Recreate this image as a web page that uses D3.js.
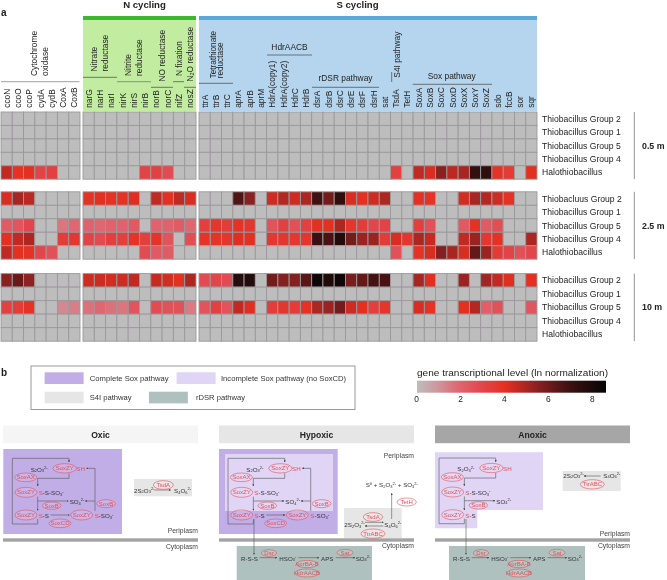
<!DOCTYPE html>
<html><head><meta charset="utf-8">
<script src="https://cdn.jsdelivr.net/npm/d3@7/dist/d3.min.js"></script>
<style>html,body{margin:0;padding:0;background:#fff}svg{display:block;filter:blur(.3px)}text{font-family:"Liberation Sans",Arial,sans-serif;fill:#222}</style>
</head><body><svg id="c" width="667" height="580"></svg>
<script>
// ---- data ----
const oxidaseGenes = ["ccoN","ccoO","ccoP","cydA","cydB","CoxA","CoxB"];
const nitrogenGenes = ["narG","narH","narI","nirK","nirS","nirB","norB","norC","nifZ","nosZ"];
const sulfurGenes = ["ttrA","ttrB","ttrC","aprA","aprB","aprM","HdrA(copy1)","HdrA(copy2)","HdrC","HdrB","dsrA","dsrB","dsrC","dsrE","dsrF","dsrH","sat","TsdA","TetH","SoxA","SoxB","SoxC","SoxD","SoxX","SoxY","SoxZ","sdo","fccB","sor","sqr"];
const allGenes = oxidaseGenes.concat(nitrogenGenes, sulfurGenes);
const groupsTop = ["Thiobacillus Group 2","Thiobacillus Group 1","Thiobacillus Group 5","Thiobacillus Group 4","Halothiobacillus"];
const groupsMid = ["Thiobacluus Group 2","Thiobacillus Group 1","Thiobacillus Group 5","Thiobacillus Group 4","Halothiobacillus"];
const zeros = new Array(47).fill(0);

const d05_halo = [4.6,3.9,4.0,3.1,3.2,0,0, 0,0,0,0,0,3.1,3.2,2.8,0,0, 0,0,0,0,0,0,0,0,0,0,0,0,0,0,0,0,0,3.2,0,4.6,4.2,5.5,4.7,5.0,7.2,7.3,3.9,3.5,0,4.0];

const d25_g2 = [4.2,5.0,4.7,0,0,0,0, 3.9,4.0,3.9,3.9,4.1,0,4.6,4.0,4.6,4.2, 0,0,0,6.6,5.5,0,4.4,4.8,4.4,4.9,6.9,5.9,7.3,4.2,4.0,4.4,4.9,0,0,4.0,3.8,0,0,4.3,5.0,4.8,4.4,3.9,0,0];
const d25_g5 = [2.2,2.4,3.0,0,0,1.6,1.9, 2.0,1.9,2.0,2.0,2.3,0,2.0,2.0,2.2,1.9, 3.3,3.7,3.4,3.9,3.7,0,2.5,3.2,2.6,3.2,4.0,4.0,4.9,3.7,3.4,3.0,3.1,0,0,3.3,2.6,0,0,2.3,3.9,2.2,2.7,0,0,0];
const d25_g4 = [4.0,4.6,4.9,0,0,3.4,3.6, 3.1,2.8,3.3,3.3,3.8,3.3,3.8,2.5,0,2.7, 3.8,3.8,3.7,4.1,4.0,0,3.6,3.7,3.6,3.7,7.0,6.7,7.7,5.9,5.2,5.2,3.5,4.2,3.7,4.9,4.5,0,0,4.6,5.2,3.6,3.9,0,0,4.9];
const d25_halo = [4.6,4.0,3.9,3.0,2.6,0,0, 0,0,0,0,0,2.8,2.3,2.2,0,0, 0,0,0,0,0,0,0,0,0,0,0,0,0,0,0,0,0,2.6,0,3.9,4.2,5.6,5.0,4.2,6.2,5.2,3.5,3.1,2.6,3.0];

const d10_g2 = [5.5,6.1,5.4,0,0,0,0, 4.4,4.4,4.3,4.4,4.6,0,4.5,4.3,4.0,4.9, 2.8,3.0,2.8,7.6,7.7,0,5.9,5.6,5.6,6.4,8.3,7.8,8.3,5.8,6.2,6.8,6.7,0,0,5.0,4.1,0,0,5.2,0,5.1,4.6,4.1,0,4.0];
const d10_g5 = [3.2,3.4,3.9,0,0,1.2,1.4, 1.7,1.9,1.7,1.6,2.4,0,2.8,2.6,2.6,1.5, 2.5,3.2,2.5,4.6,4.1,0,3.4,3.7,3.4,3.9,4.9,5.2,5.9,4.4,4.0,3.3,3.7,0,0,4.2,3.9,0,0,4.0,4.8,2.1,2.6,0,0,2.4];

const depthLabels = ["0.5 m","2.5 m","10 m"];
const depthRows = [
  [zeros,zeros,zeros,zeros,d05_halo],
  [d25_g2,zeros,d25_g5,d25_g4,d25_halo],
  [d10_g2,zeros,d10_g5,zeros,zeros]
];
const depthNames = [groupsTop,groupsMid,groupsTop];
const heatStopValues = [0,1,2,3,4,4.6,5.4,6.2,7,8.6];
const heatStopColors = ["#bdbdbd","#cf939a","#e0626c","#e2454a","#e43020","#c02a22","#8e2222","#641818","#3a1010","#050505"];
const colorTicks = [0,2,4,6,8];

// ---- scales ----
const svg = d3.select("#c");
const color = d3.scaleLinear().domain(heatStopValues).range(heatStopColors);
const xOx = d3.scaleBand().domain(oxidaseGenes).range([1,80]);
const xN = d3.scaleBand().domain(nitrogenGenes).range([83,196]);
const xS = d3.scaleBand().domain(sulfurGenes).range([199,537]);
const xOf = g => oxidaseGenes.includes(g)?xOx(g):nitrogenGenes.includes(g)?xN(g):xS(g);
const wOf = g => oxidaseGenes.includes(g)?xOx.bandwidth():nitrogenGenes.includes(g)?xN.bandwidth():xS.bandwidth();
const yTops = [[112,179.2],[191.8,259.2],[273.6,341.2]];

// ---- header ----
svg.append("rect").attr("x",83).attr("y",20).attr("width",113).attr("height",91).attr("fill","#c2eda0");
svg.append("rect").attr("x",199).attr("y",20).attr("width",338).attr("height",91).attr("fill","#b5d5ee");
svg.append("rect").attr("x",83).attr("y",16).attr("width",113).attr("height",4).attr("fill","#3fb62f");
svg.append("rect").attr("x",199).attr("y",16).attr("width",338).attr("height",4).attr("fill","#5aa9d8");
const txt=(x,y,s,o={})=>svg.append("text").attr("x",x).attr("y",y).text(s)
  .attr("font-size",o.size||8.4).attr("font-weight",o.bold?"bold":null).attr("text-anchor",o.anchor||"start")
  .attr("dominant-baseline","central").style("fill",o.fill||"#222");
const rot=(x,y,s,o={})=>svg.append("text").attr("transform",`translate(${x},${y}) rotate(-90)`).text(s)
  .attr("font-size",o.size||8.4).attr("dominant-baseline","central").style("fill","#222");
const hl=(x1,x2,y,c="#555")=>svg.append("line").attr("x1",x1).attr("x2",x2).attr("y1",y).attr("y2",y).attr("stroke",c).attr("stroke-width",.8);
txt(1,12.5,"a",{bold:true,size:10});
txt(144.5,4.5,"N cycling",{bold:true,size:9.6,anchor:"middle"});
txt(357.5,4.5,"S cycling",{bold:true,size:9.6,anchor:"middle"});
allGenes.forEach(g=>rot(xOf(g)+wOf(g)/2,107.8,g));

rot(33.7,76,"Cytochrome");rot(44.7,76,"oxidase");hl(1,79.5,81.7,"#888");
rot(94,71.5,"Nitrate");rot(105,71.5,"reductase");hl(83,117,77.3);
rot(128,76,"Nitrite");rot(139,76,"reductase");hl(117,151,81.7,"#777");
rot(161.7,81.5,"NO reductase");hl(151,173,87.3);
rot(178.7,76,"N fixation");hl(173,184,81.7);
svg.append("text").attr("transform","translate(190,81.5) rotate(-90)").attr("font-size",8.4).attr("dominant-baseline","central")
  .call(t=>{t.append("tspan").text("N");t.append("tspan").text("2").attr("font-size",5.5).attr("dy",2);t.append("tspan").text("O reductase").attr("dy",-2);});
hl(184,196,87.3);
rot(213,78.3,"Tetrathionate",{size:8.2});rot(220,78.3,"reductase",{size:8.2});hl(199,233,83.3);
txt(289.5,47,"HdrAACB",{anchor:"middle"});hl(267,312,55);
txt(345.5,78,"rDSR pathway",{anchor:"middle"});hl(312,379,87.3);
rot(397,77.7,"S4I pathway");
svg.append("line").attr("x1",391.7).attr("x2",391.7).attr("y1",72).attr("y2",82).attr("stroke","#555").attr("stroke-width",.8);
txt(451.7,76,"Sox pathway",{anchor:"middle"});hl(412.7,492,84.3);

// ---- heatmap ----
depthRows.forEach((rows,di)=>{
  const y = d3.scaleBand().domain(d3.range(5)).range(yTops[di]);
  rows.forEach((vals,ri)=>{
    svg.append("g").selectAll("rect").data(vals.map((v,i)=>({v,g:allGenes[i]}))).join("rect")
      .attr("x",d=>xOf(d.g)).attr("y",y(ri)).attr("width",d=>wOf(d.g)).attr("height",y.bandwidth())
      .attr("fill",d=>color(d.v)).attr("stroke","#9b999b").attr("stroke-width",.9);
    txt(542,y(ri)+y.bandwidth()/2,depthNames[di][ri],{size:8.6});
  });
  svg.append("line").attr("x1",634.3).attr("x2",634.3).attr("y1",yTops[di][0]).attr("y2",yTops[di][1]).attr("stroke","#777").attr("stroke-width",.8);
  txt(642,(yTops[di][0]+yTops[di][1])/2,depthLabels[di],{bold:true,size:8.8});
});

// ---- legend ----
txt(1,372,"b",{bold:true,size:10});
svg.append("rect").attr("x",31).attr("y",366).attr("width",324).attr("height",43.5).attr("fill","#fff").attr("stroke","#8e8e8e").attr("stroke-width",.9);
const legendSwatches = [[44.6,372.3,"#c2aee6"],[176.6,372.3,"#e0d5f5"],[44.6,391.7,"#e6e6e6"],[148.9,391.7,"#afc1bf"]];
const legendLabels = [[89.7,378.5,"Complete Sox pathway",79],[221,378.5,"Incomplete Sox pathway (no SoxCD)",125],[89.7,397.5,"S4I pathway",42],[196,397.5,"rDSR pathway",49]];
legendSwatches.forEach(s=>svg.append("rect").attr("x",s[0]).attr("y",s[1]).attr("width",39).attr("height",11.7).attr("fill",s[2]));
legendLabels.forEach(l=>txt(l[0],l[1],l[2],{size:7.4,fill:"#333"}).attr("textLength",l[3]).attr("lengthAdjust","spacingAndGlyphs"));
txt(417,372,"gene transcriptional level (ln normalization)",{size:9.4}).attr("textLength",191).attr("lengthAdjust","spacingAndGlyphs");
const cbar = d3.scaleLinear().domain([0,8.6]).range([417,606]);
const grad = svg.append("defs").append("linearGradient").attr("id","hg");
heatStopValues.forEach((v,i)=>grad.append("stop").attr("offset",v/8.6).attr("stop-color",heatStopColors[i]));
svg.append("rect").attr("x",417).attr("y",380.7).attr("width",189).attr("height",12).attr("fill","url(#hg)");
const ax = svg.append("g").attr("transform","translate(-1,393)").call(d3.axisBottom(cbar).tickValues(colorTicks).tickSize(0).tickPadding(3));
ax.select(".domain").remove();
ax.selectAll("text").attr("font-size",8.4).attr("font-family",null).style("fill","#222");

// ---- panels ----
const SC="#e2505a";
const panelBars = [[3,195,"Oxic","#f5f5f5"],[219,195,"Hypoxic","#e6e6e6"],[435,195,"Anoxic","#a6a6a6"]];
panelBars.forEach(p=>{
  svg.append("rect").attr("x",p[0]).attr("y",425.5).attr("width",p[1]).attr("height",17.7).attr("fill",p[3]);
  txt(p[0]+p[1]/2,435,p[2],{bold:true,size:8.6,anchor:"middle"});
  svg.append("rect").attr("x",p[0]).attr("y",538.3).attr("width",p[1]).attr("height",3.4).attr("fill","#a3a3a3");
});
const defs=svg.select("defs");
defs.append("marker").attr("id","ah").attr("viewBox","0 0 6 6").attr("refX",5).attr("refY",3).attr("markerWidth",3.6).attr("markerHeight",3.6).attr("orient","auto")
  .append("path").attr("d","M0,0L6,3L0,6z").attr("fill","#444");
function chem(x,y,s,o={}){
  const t=svg.append("text").attr("x",x).attr("y",y).attr("font-size",o.size||6.2).attr("dominant-baseline","central");
  let shift=0;
  s.split(/(_\d+|\^[0-9+-]+|\{[^}]*\})/).filter(Boolean).forEach(p=>{
    const k=p[0]; let d=0,fs=null,txtv=p,col=null;
    if(k==="_"){d=1.6;fs=4;txtv=p.slice(1);} else if(k==="^"){d=-1.6;fs=4;txtv=p.slice(1);} else if(k==="{"){txtv=p.slice(1,-1);col=SC;}
    const ts=t.append("tspan").text(txtv).attr("dy",d-shift);
    if(fs)ts.attr("font-size",fs);
    ts.style("fill",col||"#333");
    shift=d;
  });
  return t;
}
function scheme(dx,dy){
  const X=z=>dx+z/3, Y=z=>dy+395+z/3;
  return {X,Y,
    line:(pts,arrow=true)=>svg.append("path").attr("d",d3.line().x(p=>X(p[0])).y(p=>Y(p[1]))(pts)).attr("fill","none").attr("stroke","#555").attr("stroke-width",.6).attr("marker-end",arrow?"url(#ah)":null),
    el:(cx,cy,rx,ry,s)=>{
      svg.append("ellipse").attr("cx",X(cx)).attr("cy",Y(cy)).attr("rx",rx/3).attr("ry",ry/3).attr("fill","rgba(255,235,235,.12)").attr("stroke",SC).attr("stroke-width",.6);
      svg.append("text").attr("x",X(cx)).attr("y",Y(cy)).attr("text-anchor","middle").attr("dominant-baseline","central").attr("font-size",6).text(s).style("fill",SC);
    },
    t:(x,y,s)=>chem(X(x),Y(y),s)
  };
}
function sox(dx,dy,full){
  const s=scheme(dx,dy);
  s.line([[113,372],[113,387],[37,387],[37,190],[207,190],[207,201]]);
  s.line([[207,235],[207,250],[113,250],[113,273]]);
  s.line([[113,305],[113,346]]);
  s.line([[113,318],[205,318]]);
  s.t(92,221,"S_2O_3^2-");
  s.el(194,220,35,14,"SoxZY"); s.t(229,220,"{SH}");
  s.el(77,247,33,13,"SoxAX");
  s.el(78,292,33,15,"SoxZY"); s.t(116,292,"{S}-S-SO_3^-");
  s.el(155,332,28,11,"SoxB");
  s.t(209,318,"SO_4^2-");
  s.el(78,360,33,15,"SoxZY"); s.t(116,360,"{S}-S");
  if(full){
    s.line([[152,360],[208,360]]);
    s.line([[285,348],[285,220],[260,220]]);
    s.line([[285,318],[256,318]]);
    s.el(245,360,33,15,"SoxZY"); s.t(284,361,"{S}-SO_3^-");
    s.el(318,326,28,12,"SoxB");
    s.el(180,385,33,13,"SoxCD");
  }
}
function rdsr(dx,dy){
  const s=scheme(dx,dy);
  s.line([[117,372],[117,478]]);
  s.t(78,488,"R-S-S");
  s.line([[134,488],[186,488]]); s.el(162,474,23,10,"Dsr");
  s.t(193,488,"HSO_3^-");
  s.line([[250,488],[312,488]]);
  s.el(276,507,32,11,"AprBA-B"); s.el(276,534,36,12,"HdrAACB");
  s.t(318,488,"APS");
  s.line([[362,488],[420,488]]); s.el(390,473,24,10,"Sat");
  s.t(422,488,"SO_4^2-");
}
const rect=(x,y,w,h,f)=>svg.append("rect").attr("x",x).attr("y",y).attr("width",w).attr("height",h).attr("fill",f);
const COMPLETE="#c2aee6",INCOMPLETE="#e0d5f5",S4I="#e6e6e6",RDSR="#afc1bf";
// oxic
rect(3.3,449,118.7,85,COMPLETE);
sox(0,0,true);
rect(134,479,58,17.3,S4I);
{const s=scheme(0,0);s.t(402,284,"2S_2O_3^2-");s.t(522,285,"S_4O_6^2-");s.line([[463,285],[512,285]]);s.el(490,270,30,13,"TsdA");}
txt(198,530.5,"Periplasm",{size:6.8,anchor:"end",fill:"#444"});
txt(198,546,"Cytoplasm",{size:6.8,anchor:"end",fill:"#444"});
// hypoxic
rect(219,449,118.7,85,COMPLETE);
rect(225,454,108,57,INCOMPLETE);
rect(236.7,546,135.3,34,RDSR);
sox(215.7,0,true);
rdsr(215,0);
rect(344,508,57.7,30,S4I);
{const s=scheme(215,0);s.t(388,387,"2S_2O_3^2-");s.t(508,387,"S_4O_6^2-");s.line([[450,382],[505,382]]);s.line([[505,393],[450,393]]);
 s.el(474,366,29,13,"TsdA");s.el(474,416,36,14,"TtrABC");s.line([[530,372],[530,295]]);s.t(452,268,"S^0 + S_2O_3^2- + SO_3^2-");s.el(575,321,29,12,"TetH");}
txt(414,455,"Periplasm",{size:6.8,anchor:"end",fill:"#444"});
txt(414,545.7,"Cytoplasm",{size:6.8,anchor:"end",fill:"#444"});
// anoxic
svg.append("path").attr("d","M435,452.3H543V510H477.3V528.3H435Z").attr("fill",INCOMPLETE);
rect(449,546,136,34,RDSR);
sox(426.7,-.3,false);
rdsr(427,0);
rect(562.7,471,58,20,S4I);
{const s=scheme(430,0);s.t(400,239,"2S_2O_3^2-");s.t(520,239,"S_4O_6^2-");s.line([[512,243],[462,243]]);s.el(487,268,36,14,"TtrABC");}
txt(630,533,"Periplasm",{size:6.8,anchor:"end",fill:"#444"});
txt(630,545.7,"Cytoplasm",{size:6.8,anchor:"end",fill:"#444"});
</script></body></html>
